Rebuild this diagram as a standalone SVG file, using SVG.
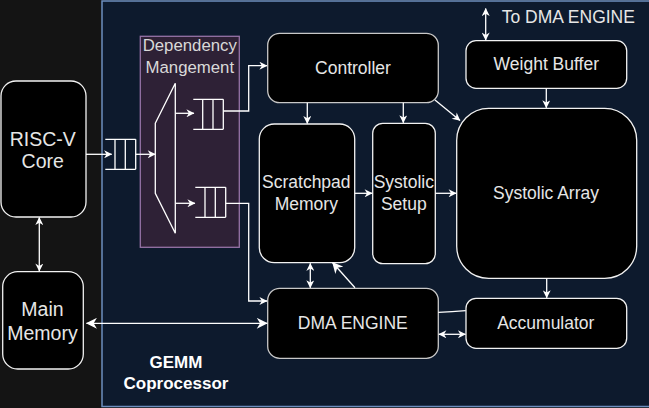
<svg xmlns="http://www.w3.org/2000/svg" width="649" height="408" viewBox="0 0 649 408">
<defs>
<style>
.box{fill:#000;stroke:#f2f2f2;stroke-width:1.3}
.boxg{fill:#000;stroke:#c8c8c8;stroke-width:1.3}
.t{font-family:"Liberation Sans",Arial,sans-serif;fill:#e6e6e6;text-anchor:middle;font-size:17.5px}
.tl{font-family:"Liberation Sans",Arial,sans-serif;fill:#e6e6e6;text-anchor:middle;font-size:19.5px}
.w{fill:none;stroke:#fff;stroke-width:1.3}
.c{fill:none;stroke:#fff;stroke-width:1.3}
</style>
<marker id="a" markerUnits="userSpaceOnUse" viewBox="0 0 10 10" markerWidth="9" markerHeight="8" refX="9.5" refY="5" orient="auto-start-reverse">
<path d="M0,0 L10,5 L0,10 L3,5 z" fill="#fff"/>
</marker>
<marker id="b" markerUnits="userSpaceOnUse" viewBox="0 0 10 10" markerWidth="12" markerHeight="11" refX="9.5" refY="5" orient="auto-start-reverse">
<path d="M0,0 L10,5 L0,10 L3,5 z" fill="#fff"/>
</marker>
</defs>
<rect x="0" y="0" width="649" height="408" fill="#141414"/>
<g id="coprocessor">
<rect x="102" y="1" width="560" height="405.5" fill="#0d1a2d" stroke="#6c8ebf" stroke-width="1.5"/>
<text x="176" y="368.3" font-family="'Liberation Sans',Arial,sans-serif" font-weight="bold" font-size="17px" fill="#fff" text-anchor="middle">GEMM</text>
<text x="176" y="389" font-family="'Liberation Sans',Arial,sans-serif" font-weight="bold" font-size="17px" fill="#fff" text-anchor="middle">Coprocessor</text>
</g>
<g id="dependency">
<rect x="140.3" y="36.3" width="99" height="211" fill="#2e2136" stroke="#9673a6" stroke-width="1.3"/>
<text x="189.8" y="51" class="t" style="font-size:16.8px;fill:#d9d9d9">Dependency</text>
<text x="189.8" y="72.7" class="t" style="font-size:16.8px;fill:#d9d9d9">Mangement</text>
<polygon points="155.3,123.3 175.3,83.3 175.3,233.3 155.3,193.3" fill="none" stroke="#fff" stroke-width="1.3"/>
</g>
<g id="queue-in">
<path class="w" d="M105.3,139.3 H135.7 M105.3,169.3 H135.7 M115,139.3 V169.3 M125.3,139.3 V169.3 M135.7,139.3 V169.3"/>
</g>
<g id="queue-top">
<path class="w" d="M193.3,99.3 H223.3 M193.3,129.3 H223.3 M202.7,99.3 V129.3 M213,99.3 V129.3 M223.3,99.3 V129.3"/>
</g>
<g id="queue-bottom">
<path class="w" d="M195.3,187.3 H225.7 M195.3,217.3 H225.7 M205,187.3 V217.3 M215.3,187.3 V217.3 M225.7,187.3 V217.3"/>
</g>
<g id="risc">
<rect class="box" x="1" y="81" width="85" height="136" rx="15"/>
<text class="tl" x="42.7" y="145.7">RISC-V</text>
<text class="tl" x="42.7" y="168">Core</text>
</g>
<g id="mainmem">
<rect class="box" x="2.7" y="271.7" width="80.6" height="97.3" rx="15"/>
<text class="tl" x="42.5" y="316">Main</text>
<text class="tl" x="42.5" y="340">Memory</text>
</g>
<g id="controller">
<rect class="boxg" x="267.7" y="33.3" width="170.6" height="69.4" rx="12"/>
<text class="t" x="353" y="74">Controller</text>
</g>
<g id="weightbuffer">
<rect class="box" x="466" y="40.7" width="160.7" height="47.6" rx="10"/>
<text class="t" x="546.3" y="70">Weight Buffer</text>
</g>
<text class="t" x="501.7" y="23.3" style="text-anchor:start">To DMA ENGINE</text>
<g id="scratchpad">
<rect class="box" x="259.3" y="124" width="95.4" height="138.7" rx="15"/>
<text class="t" x="306.3" y="188.3">Scratchpad</text>
<text class="t" x="306.3" y="210">Memory</text>
</g>
<g id="setup">
<rect class="box" x="372.7" y="123.3" width="62.6" height="140.4" rx="10"/>
<text class="t" x="403.8" y="188.3">Systolic</text>
<text class="t" x="403.8" y="210">Setup</text>
</g>
<g id="array">
<rect class="box" x="456.7" y="108.3" width="180" height="170" rx="32"/>
<text class="t" x="546" y="199.3">Systolic Array</text>
</g>
<g id="dma">
<rect class="boxg" x="267.7" y="288.3" width="170.6" height="70" rx="12"/>
<text class="t" x="352.8" y="329">DMA ENGINE</text>
</g>
<g id="accumulator">
<rect class="box" x="466" y="298.3" width="160.7" height="50" rx="10"/>
<text class="t" x="545.8" y="329">Accumulator</text>
</g>
<g id="connectors">
<line class="c" x1="86" y1="154.3" x2="111.7" y2="154.3" marker-end="url(#a)"/>
<line class="c" x1="135.7" y1="154.3" x2="155.3" y2="154.3" marker-end="url(#a)"/>
<line class="c" x1="175.3" y1="113.3" x2="194" y2="113.3" marker-end="url(#a)"/>
<line class="c" x1="175.3" y1="203.3" x2="195" y2="203.3" marker-end="url(#a)"/>
<polyline class="c" points="223.3,111 248.7,111 248.7,65.7 267,65.7" marker-end="url(#a)"/>
<polyline class="c" points="225.7,203.3 248.7,203.3 248.7,301 267,301" marker-end="url(#a)"/>
<line class="c" x1="307.3" y1="102.7" x2="307.3" y2="123.5" marker-end="url(#a)"/>
<line class="c" x1="403.3" y1="102.7" x2="403.3" y2="122.8" marker-end="url(#a)"/>
<line class="c" x1="435" y1="100" x2="460" y2="120.5" marker-end="url(#a)"/>
<line class="c" x1="546.3" y1="88.3" x2="546.3" y2="107.8" marker-end="url(#a)"/>
<line class="c" x1="485.7" y1="8.5" x2="485.7" y2="40.2" marker-start="url(#a)" marker-end="url(#a)"/>
<line class="c" x1="354.7" y1="193.3" x2="372.2" y2="193.3" marker-end="url(#a)"/>
<line class="c" x1="435.3" y1="193.3" x2="456.2" y2="193.3" marker-end="url(#a)"/>
<line class="c" x1="310.3" y1="263.3" x2="310.3" y2="287.8" marker-start="url(#a)" marker-end="url(#a)"/>
<line class="c" x1="355" y1="287.7" x2="332.5" y2="262.5" stroke-width="2.2" marker-end="url(#b)"/>
<line class="c" x1="546.7" y1="278.3" x2="546.7" y2="297.8" marker-end="url(#a)"/>
<line class="c" x1="438.8" y1="334.3" x2="465.5" y2="334.3" marker-start="url(#a)" marker-end="url(#a)"/>
<path class="c" d="M438.3,312.3 Q452,312 465.7,310.7" stroke-width="2.2"/>
<line class="c" x1="39.3" y1="217.5" x2="39.3" y2="271.2" marker-start="url(#a)" marker-end="url(#a)"/>
<line class="c" x1="86.5" y1="323.3" x2="267.2" y2="323.3" stroke-width="2.6" marker-start="url(#b)" marker-end="url(#b)"/>
</g>
</svg>
